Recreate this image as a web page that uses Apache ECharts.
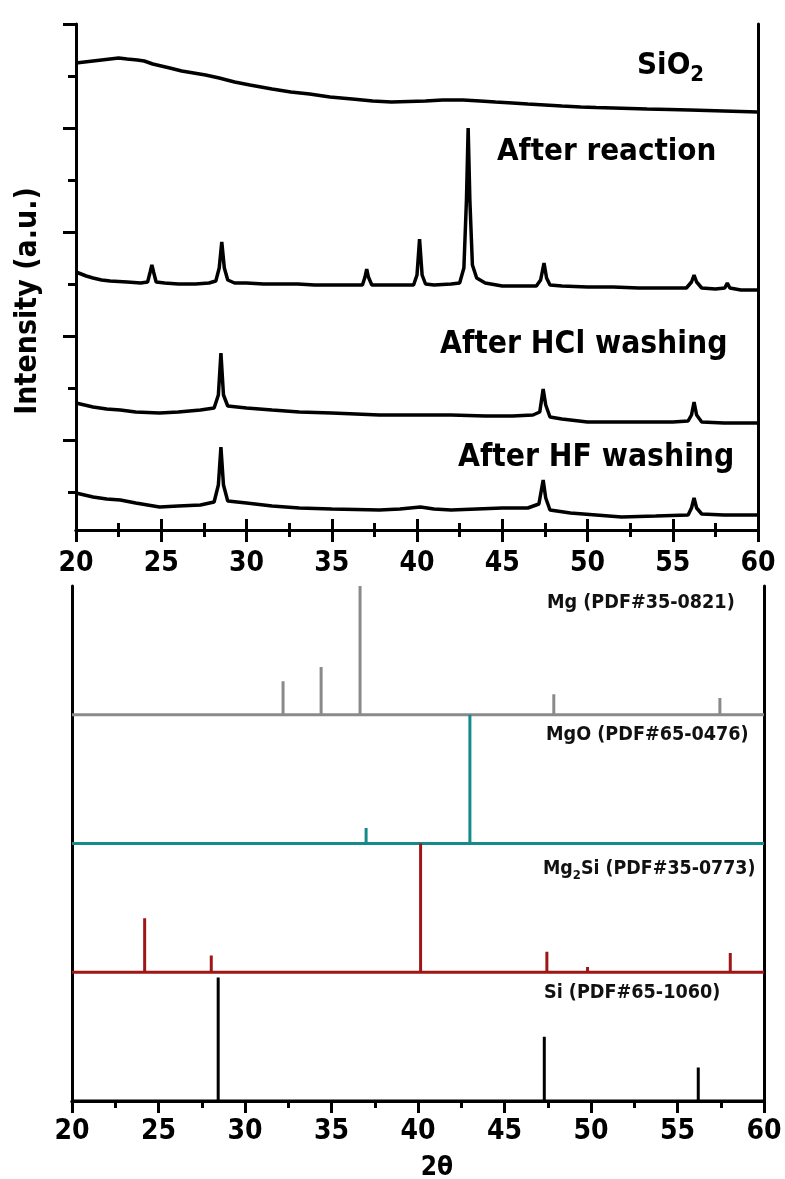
<!DOCTYPE html>
<html><head><meta charset="utf-8">
<script src="https://cdn.jsdelivr.net/npm/echarts@6/dist/echarts.min.js"></script>
<style>html,body{margin:0;padding:0;background:#fff}#c{width:785px;height:1179px}</style>
</head><body><div id="c"></div>
<script>
// ---------- data (2θ in degrees, intensity in a.u.) ----------
const xTicks = [20, 25, 30, 35, 40, 45, 50, 55, 60];
const yMajorTicks = [90, 194, 298, 402, 506];
const yMinorTicks = [38, 142, 246, 350, 454];

const sio2 = [[20,467],[20.5,468],[21,469],[21.5,470],[22,471],[22.5,472],[23,471],[23.6,470],[24,469],[24.5,466],[25,464],[25.5,462],[26.2,459],[26.9,457],[27.6,455],[28.4,452],[29.3,448],[30.2,445],[31.5,441],[32.6,438],[33.7,436],[34.9,433],[36.2,431],[37.4,429],[38.5,428],[39.5,428.5],[40.5,429],[41.5,430],[42.7,430],[43.7,429],[44.6,428],[45.6,427],[46.5,426],[47.5,425],[48.5,424],[49.6,423],[50.5,422.5],[51.5,422],[52.5,421.5],[53.5,421],[54.8,420.5],[56,420],[57,419.5],[58,419],[59,418.5],[60,418]];

const afterReaction = [[20,258],[20.3,256],[20.6,254],[21,252],[21.5,250],[22,249],[23,248],[23.8,247],[24.2,248],[24.35,258],[24.45,265],[24.55,258],[24.7,248],[25.2,247],[26,246],[27,246],[27.8,247],[28.2,249],[28.4,262],[28.55,288],[28.7,262],[28.9,250],[29.3,247],[30,247],[31,246],[32,246],[33,246],[34,245],[35,245],[36,245],[36.8,245],[36.95,253],[37.05,261],[37.15,253],[37.35,245],[38,245],[39,245],[39.8,245],[40.0,255],[40.15,291],[40.3,255],[40.5,246],[41,245],[42,246],[42.5,247],[42.75,262],[42.9,330],[43.0,402],[43.1,330],[43.25,265],[43.5,252],[44,247],[45,244],[46,244],[47,244],[47.25,250],[47.45,267],[47.6,252],[47.8,245],[48.5,244],[50,243],[51.5,243],[53,242],[54.5,242],[55.8,242],[56.1,248],[56.25,255],[56.4,248],[56.7,242],[57.5,241],[58.05,242],[58.2,247],[58.35,242],[59,240],[60,240]];

const afterHCl = [[20,127],[20.5,125],[21,123],[21.8,121],[22.6,120],[23.5,118],[24.9,117],[26,118],[27.3,120],[28.1,122],[28.35,135],[28.5,177],[28.65,135],[28.9,124],[30,122],[31.5,120],[33.1,118],[35,117],[37.8,115],[40,115],[42,115],[44,114],[45.6,114],[46.8,115],[47.2,118],[47.4,141],[47.55,125],[47.8,113],[48.5,111],[50,108],[51.5,108],[53,108],[55,108],[55.9,109],[56.1,115],[56.25,128],[56.4,115],[56.7,108],[58,107],[60,107]];

const afterHF = [[20,37],[20.5,35],[21,33],[21.8,31],[22.6,30],[23.5,27],[24.9,23],[26,24],[27.3,25],[28.1,28],[28.35,45],[28.5,83],[28.65,45],[28.9,29],[30,27],[31.5,24],[33.1,22],[35,21],[37.8,20],[39,21],[40.2,23],[41,21],[42,20],[43.5,21],[45,22],[46.5,22],[47.15,26],[47.4,50],[47.55,32],[47.8,20],[49,17],[50.5,15],[52,13],[54,14],[55.9,15],[56.1,22],[56.25,32],[56.4,22],[56.7,16],[58,15],[60,15]];

// reference patterns: peak positions and relative intensities
const mgPos = [32.2, 34.4, 36.65, 47.85, 57.45];
const mgInt = [0.26, 0.37, 1.0, 0.16, 0.13];
const mgoPos = [37.0, 43.0];
const mgoInt = [0.12, 1.0];
const mg2siPos = [24.2, 28.05, 40.15, 47.45, 49.8, 58.05];
const mg2siInt = [0.42, 0.13, 1.0, 0.16, 0.04, 0.15];
const siPos = [28.45, 47.3, 56.2];
const siInt = [0.96, 0.50, 0.26];

// ---------- build ----------
function sticks(pos, ints, base) {
  const d = [[20, base]];
  pos.forEach((p, i) => { d.push([p, base], [p, base + ints[i]], [p, base]); });
  d.push([60, base]);
  return d;
}
const FONT = '"DejaVu Sans Condensed", "DejaVu Sans", sans-serif';
const chart = echarts.init(document.getElementById('c'), null, {renderer: 'canvas'});

const lineAx = {show: true, lineStyle: {color: '#000', width: 3}};
const noTick = {show: false};
const noLbl = {show: false};

function line(data, xi, yi, color, w) {
  return {type: 'line', xAxisIndex: xi, yAxisIndex: yi, data: data, showSymbol: false,
    symbol: 'none', animation: false, lineStyle: {color: color, width: w}, itemStyle: {color: color}};
}

const option = {
  backgroundColor: '#fff',
  animation: false,
  grid: [
    {left: 76, top: 24, width: 682, height: 506},
    {left: 72, top: 586, width: 692, height: 515}
  ],
  xAxis: [
    {gridIndex: 0, type: 'value', position: 'bottom', min: 20, max: 60, interval: 5,
     axisLine: lineAx, axisTick: {show: true, length: 12, lineStyle: {width: 3, color: '#000'}},
     minorTick: {show: true, splitNumber: 2, length: 7, lineStyle: {width: 3, color: '#000'}},
     splitLine: {show: false},
     axisLabel: {show: true, margin: 20, fontSize: 28, fontWeight: 'bold', fontFamily: FONT, color: '#000'}},
    {gridIndex: 0, type: 'value', position: 'top', min: 20, max: 60, interval: 5,
     axisLine: lineAx, axisTick: {show: true, length: 11, lineStyle: {width: 3, color: '#000'}},
     minorTick: {show: true, splitNumber: 2, length: 7, lineStyle: {width: 3, color: '#000'}},
     splitLine: {show: false}, axisLabel: noLbl},
    {gridIndex: 1, type: 'value', position: 'bottom', min: 20, max: 60, interval: 5,
     axisLine: lineAx, axisTick: {show: true, length: 12, lineStyle: {width: 3, color: '#000'}},
     minorTick: {show: true, splitNumber: 2, length: 7, lineStyle: {width: 3, color: '#000'}},
     splitLine: {show: false},
     axisLabel: {show: true, margin: 17, fontSize: 28, fontWeight: 'bold', fontFamily: FONT, color: '#000'}},
    {gridIndex: 1, type: 'value', position: 'top', min: 20, max: 60,
     axisLine: lineAx, axisTick: noTick, splitLine: {show: false}, axisLabel: noLbl}
  ],
  yAxis: [
    {gridIndex: 0, type: 'value', position: 'left', min: 0, max: 506,
     axisLine: lineAx,
     axisTick: {show: true, length: 13, customValues: yMajorTicks, lineStyle: {width: 3, color: '#000'}},
     splitLine: {show: false}, axisLabel: noLbl},
    {gridIndex: 0, type: 'value', position: 'left', min: 0, max: 506,
     axisLine: {show: false},
     axisTick: {show: true, length: 8, customValues: yMinorTicks, lineStyle: {width: 3, color: '#000'}},
     splitLine: {show: false}, axisLabel: noLbl},
    {gridIndex: 0, type: 'value', position: 'right', min: 0, max: 506,
     axisLine: lineAx, axisTick: noTick, splitLine: {show: false}, axisLabel: noLbl},
    {gridIndex: 1, type: 'value', position: 'left', min: 0, max: 4,
     axisLine: lineAx, axisTick: noTick, splitLine: {show: false}, axisLabel: noLbl},
    {gridIndex: 1, type: 'value', position: 'right', min: 0, max: 4,
     axisLine: lineAx, axisTick: noTick, splitLine: {show: false}, axisLabel: noLbl}
  ],
  series: [
    Object.assign(line(sio2, 0, 0, '#000', 3.5), {name: 'SiO2'}),
    Object.assign(line(afterReaction, 0, 0, '#000', 3.5), {name: 'After reaction'}),
    Object.assign(line(afterHCl, 0, 0, '#000', 3.5), {name: 'After HCl washing'}),
    Object.assign(line(afterHF, 0, 0, '#000', 3.5), {name: 'After HF washing'}),
    Object.assign(line(sticks(mgPos, mgInt, 3), 2, 3, '#8a8a8a', 3), {name: 'Mg'}),
    Object.assign(line(sticks(mgoPos, mgoInt, 2), 2, 3, '#16898b', 3), {name: 'MgO'}),
    Object.assign(line(sticks(mg2siPos, mg2siInt, 1), 2, 3, '#9e1616', 3), {name: 'Mg2Si'}),
    Object.assign(line(sticks(siPos, siInt, 0), 2, 3, '#000', 3), {name: 'Si'})
  ],
  graphic: [
    {type: 'text', x: 637, y: 66, style: {text: '{a|SiO}{b|2}', align: 'left', verticalAlign: 'middle',
      rich: {a: {fontSize: 31, fontWeight: 'bold', fontFamily: FONT, fill: '#000', color: '#000'},
             b: {fontSize: 22, fontWeight: 'bold', fontFamily: FONT, fill: '#000', color: '#000', padding: [19, 0, 0, 0]}}}},
    {type: 'text', x: 497, y: 152, style: {text: 'After reaction', align: 'left', verticalAlign: 'middle', fontSize: 31, fontWeight: 'bold', fontFamily: FONT, fill: '#000'}},
    {type: 'text', x: 440, y: 345, style: {text: 'After HCl washing', align: 'left', verticalAlign: 'middle', fontSize: 31.5, fontWeight: 'bold', fontFamily: FONT, fill: '#000'}},
    {type: 'text', x: 458, y: 458, style: {text: 'After HF washing', align: 'left', verticalAlign: 'middle', fontSize: 31.5, fontWeight: 'bold', fontFamily: FONT, fill: '#000'}},
    {type: 'text', x: 28, y: 301, rotation: Math.PI / 2, style: {text: 'Intensity (a.u.)', align: 'center', verticalAlign: 'middle', fontSize: 30, fontWeight: 'bold', fontFamily: FONT, fill: '#000'}},
    {type: 'text', x: 547, y: 603, style: {text: 'Mg (PDF#35-0821)', align: 'left', verticalAlign: 'middle', fontSize: 19.6, fontWeight: 'bold', fontFamily: FONT, fill: '#111'}},
    {type: 'text', x: 546, y: 735, style: {text: 'MgO (PDF#65-0476)', align: 'left', verticalAlign: 'middle', fontSize: 19.6, fontWeight: 'bold', fontFamily: FONT, fill: '#111'}},
    {type: 'text', x: 543, y: 869, style: {text: '{a|Mg}{b|2}{a|Si (PDF#35-0773)}', align: 'left', verticalAlign: 'middle',
      rich: {a: {fontSize: 19.4, fontWeight: 'bold', fontFamily: FONT, fill: '#111', color: '#111'},
             b: {fontSize: 13, fontWeight: 'bold', fontFamily: FONT, fill: '#111', color: '#111', padding: [13, 0, 0, 0]}}}},
    {type: 'text', x: 544, y: 993, style: {text: 'Si (PDF#65-1060)', align: 'left', verticalAlign: 'middle', fontSize: 19.6, fontWeight: 'bold', fontFamily: FONT, fill: '#111'}},
    {type: 'text', x: 437, y: 1168, style: {text: '2θ', align: 'center', verticalAlign: 'middle', fontSize: 26, fontWeight: 'bold', fontFamily: FONT, fill: '#000'}}
  ]
};
chart.setOption(option);
</script>
</body></html>
